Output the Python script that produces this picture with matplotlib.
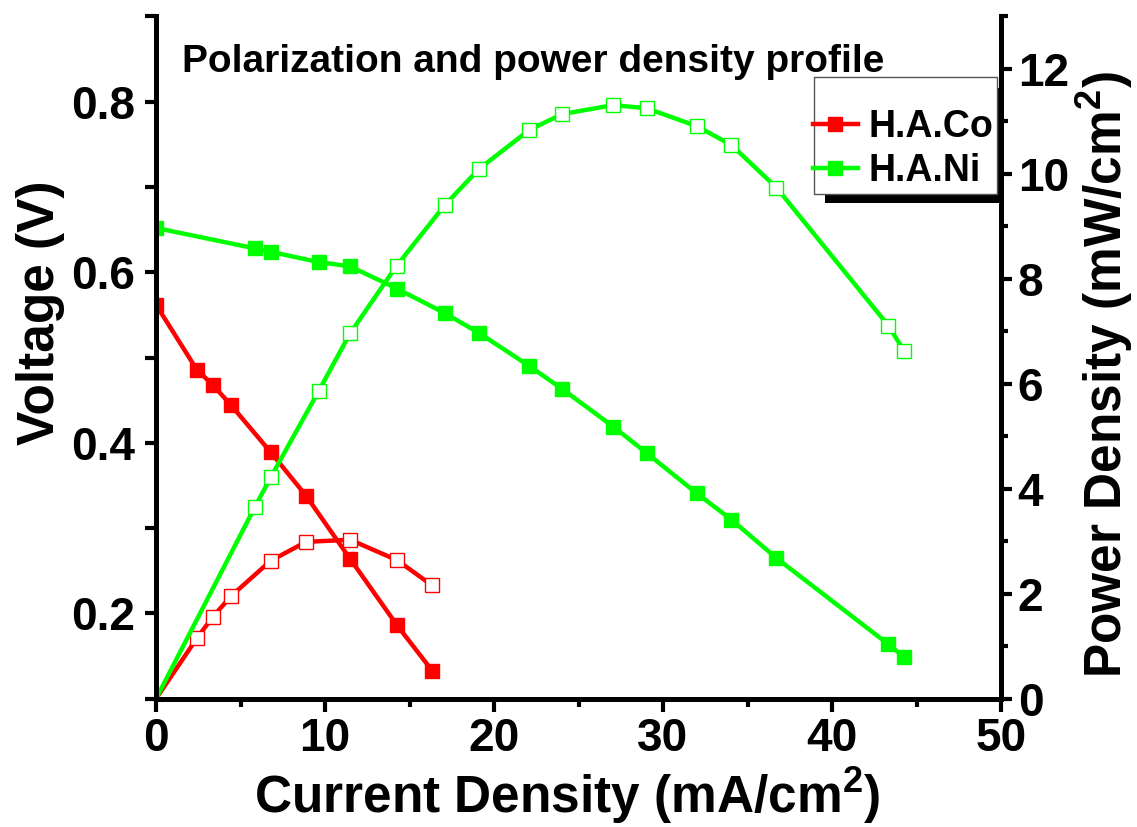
import matplotlib
matplotlib.use("Agg")
import matplotlib.pyplot as plt
from matplotlib.lines import Line2D
from matplotlib.patches import Rectangle
from matplotlib.ticker import MultipleLocator

# H.A.Co cell
co_current = [0, 2.41, 3.36, 4.45, 6.79, 8.88, 11.49, 14.27, 16.34]
co_voltage = [0.562, 0.486, 0.468, 0.444, 0.389, 0.338, 0.264, 0.186, 0.133]
co_power = [0, 1.15, 1.56, 1.96, 2.63, 2.99, 3.03, 2.64, 2.16]

# H.A.Ni cell
ni_current = [0, 5.86, 6.79, 9.62, 11.48, 14.24, 17.10, 19.10, 22.10,
              24.05, 27.06, 29.04, 31.99, 34.05, 36.71, 43.33, 44.26]
ni_voltage = [0.652, 0.628, 0.624, 0.612, 0.607, 0.581, 0.552, 0.529, 0.490,
              0.463, 0.419, 0.388, 0.341, 0.310, 0.265, 0.164, 0.149]
ni_power = [0, 3.66, 4.22, 5.86, 6.96, 8.25, 9.41, 10.09, 10.84,
            11.14, 11.31, 11.25, 10.91, 10.55, 9.74, 7.11, 6.63]

labels = ["H.A.Co", "H.A.Ni"]

plt.rcParams['font.family'] = 'Liberation Sans'
plt.rcParams['font.weight'] = 'bold'
plt.rcParams['axes.labelweight'] = 'bold'
plt.rcParams['mathtext.fontset'] = 'custom'
plt.rcParams['mathtext.rm'] = 'Liberation Sans:bold'
plt.rcParams['mathtext.bf'] = 'Liberation Sans:bold'
plt.rcParams['mathtext.it'] = 'Liberation Sans:bold'

RED = '#ff0000'
GREEN = '#00ff00'
W, H = 1137, 827

fig = plt.figure(figsize=(W / 100, H / 100), dpi=100)
ax = fig.add_axes([156 / W, 1 - 698.8 / H, 845 / W, 682.4 / H])
ax2 = ax.twinx()

# polarization curves (filled squares)
ax.plot(co_current, co_voltage, color=RED, lw=3.2, marker='s', ms=10)
ax.plot(ni_current, ni_voltage, color=GREEN, lw=3.2, marker='s', ms=10.5)

# power density curves (open squares, first point at origin unmarked)
ax2.plot(co_current, co_power, color=RED, lw=3.2, marker='s', ms=9.5,
         mfc='white', mec=RED, mew=1, markevery=list(range(1, len(co_current))))
ax2.plot(ni_current, ni_power, color=GREEN, lw=3.2, marker='s', ms=9.5,
         mfc='white', mec=GREEN, mew=1, markevery=list(range(1, len(ni_current))))

ax.set_xlim(0, 50)
ax.set_ylim(0.1, 0.9)
ax2.set_ylim(0, 13)

ax.xaxis.set_major_locator(MultipleLocator(10))
ax.xaxis.set_minor_locator(MultipleLocator(5))
ax.yaxis.set_major_locator(MultipleLocator(0.2))
ax.yaxis.set_minor_locator(MultipleLocator(0.1))
ax2.yaxis.set_major_locator(MultipleLocator(2))
ax2.yaxis.set_minor_locator(MultipleLocator(1))

for a in (ax, ax2):
    a.spines['top'].set_visible(False)
    for s in ('left', 'right', 'bottom'):
        a.spines[s].set_linewidth(3.5)

ax.tick_params(axis='x', which='major', direction='out', length=9, width=3,
               labelsize=33, pad=4)
ax.tick_params(axis='x', which='minor', direction='out', length=5.5, width=3)
ax.tick_params(axis='y', which='both', direction='out', length=8, width=3,
               labelsize=33, pad=7)
ax2.tick_params(axis='y', which='major', direction='out', length=8, width=3,
                labelsize=33, pad=4)
ax2.tick_params(axis='y', which='minor', direction='out', length=5, width=3)

ax.set_xlabel(r'Current Density (mA/cm$^{\mathbf{2}}$)', fontsize=37)
ax.set_ylabel('Voltage (V)', fontsize=37)
ax2.set_ylabel(r'Power Density (mW/cm$^{\mathbf{2}}$)', fontsize=37)
ax.xaxis.set_label_coords(0.487, -0.097)
ax.yaxis.set_label_coords(-0.108, 0.565)
ax2.yaxis.set_label_coords(1.087, 0.475)

ax.text(0.0304, 0.919, 'Polarization and power density profile',
        transform=ax.transAxes, fontsize=28, va='baseline', ha='left')

# legend frame with a solid drop shadow
fig.patches.append(Rectangle((825 / W, 1 - 203 / H), 179 / W, 115 / H,
                             transform=fig.transFigure, facecolor='black',
                             edgecolor='none', zorder=1))
fig.patches.append(Rectangle((814 / W, 1 - 194 / H), 183 / W, 117 / H,
                             transform=fig.transFigure, facecolor='white',
                             edgecolor='#555555', lw=1, zorder=2))
handles = [Line2D([], [], color=RED, lw=3.2, marker='s', ms=10),
           Line2D([], [], color=GREEN, lw=3.2, marker='s', ms=10.5)]
fig.legend(handles, labels, loc='center left',
           bbox_to_anchor=(812.7 / W, 1 - 149.2 / H), frameon=False,
           fontsize=27, handlelength=1.2, handletextpad=0.3, labelspacing=0.2,
           borderpad=0, borderaxespad=0)

fig.savefig('out.png', dpi=100)
